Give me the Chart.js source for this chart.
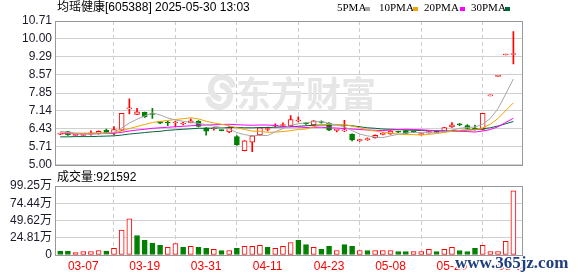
<!DOCTYPE html>
<html>
<head>
<meta charset="utf-8">
<script src="https://cdn.jsdelivr.net/npm/chart.js@4.4.1/dist/chart.umd.min.js"></script>
<style>
  html, body { margin: 0; padding: 0; background: #fff; }
  #wrap { position: relative; width: 578px; height: 276px; overflow: hidden; }
  canvas { position: absolute; left: 0; }
  #kline { top: 0; }
  #vol { top: 168px; }
</style>
</head>
<body>
<div id="wrap">
  <canvas id="kline" width="578" height="175"></canvas>
  <canvas id="vol" width="578" height="108"></canvas>
</div>
<script>
// trading days 2025-03-04 .. 2025-05-30
const dates = [
  '03-04','03-05','03-06','03-07','03-10','03-11','03-12','03-13','03-14','03-17',
  '03-18','03-19','03-20','03-21','03-24','03-25','03-26','03-27','03-28','03-31',
  '04-01','04-02','04-03','04-07','04-08','04-09','04-10','04-11','04-14','04-15',
  '04-16','04-17','04-18','04-21','04-22','04-23','04-24','04-25','04-28','04-29',
  '04-30','05-06','05-07','05-08','05-09','05-12','05-13','05-14','05-15','05-16',
  '05-19','05-20','05-21','05-22','05-23','05-26','05-27','05-28','05-29','05-30'
];
const opens = [6.22,6.32,6.17,6.17,6.22,6.24,6.37,6.27,6.38,7.22, 7.00,7.08,7.02,6.72,6.67,6.66,6.62,6.67,6.73,6.47,
  6.42,6.38,6.31,6.12,5.56,5.90,6.19,6.40,6.54,6.56, 6.55,6.74,6.66,6.58,6.70,6.66,6.37,6.35,6.21,5.96,
  6.00,6.08,6.21,6.23,6.32,6.36,6.34,6.20,6.28,6.31, 6.31,6.50,6.61,6.56,6.46,6.40,7.74,8.51,9.36,9.38];
const highs = [6.26,6.33,6.21,6.21,6.35,6.35,6.42,6.52,7.04,7.62, 7.24,7.09,7.24,6.73,6.73,6.73,6.69,6.83,6.76,6.48,
  6.48,6.39,6.52,6.16,5.96,6.17,6.49,6.50,6.63,6.67, 6.95,6.90,6.68,6.76,6.75,6.68,6.40,6.77,6.23,6.02,
  6.07,6.19,6.28,6.36,6.34,6.38,6.35,6.25,6.32,6.33, 6.49,6.68,6.64,6.60,6.58,7.04,7.74,8.51,9.36,10.29];
const lows = [6.20,6.17,6.15,6.15,6.18,6.22,6.26,6.20,6.36,7.02, 6.99,6.88,6.84,6.63,6.55,6.51,6.58,6.66,6.50,6.18,
  6.38,6.35,6.28,5.77,5.55,5.52,6.17,6.35,6.50,6.53, 6.53,6.70,6.60,6.56,6.65,6.36,6.31,6.32,5.95,5.93,
  5.97,6.06,6.19,6.21,6.28,6.23,6.28,6.18,6.26,6.28, 6.30,6.48,6.55,6.42,6.38,6.38,7.74,8.51,9.36,9.01];
const closes = [6.24,6.19,6.19,6.19,6.27,6.33,6.28,6.40,7.04,7.25, 7.10,6.90,7.00,6.65,6.66,6.69,6.64,6.75,6.52,6.34,
  6.44,6.36,6.47,5.80,5.95,6.15,6.47,6.42,6.57,6.60, 6.80,6.76,6.63,6.75,6.68,6.38,6.39,6.37,5.99,5.98,
  6.01,6.17,6.24,6.34,6.30,6.25,6.30,6.22,6.30,6.30, 6.48,6.59,6.59,6.44,6.40,7.04,7.74,8.51,9.36,9.42];

// moving averages
const ma5 = [6.33,6.29,6.25,6.22,6.22,6.23,6.25,6.29,6.46,6.66, 6.81,6.94,7.06,6.98,6.86,6.78,6.73,6.68,6.65,6.59,
  6.54,6.48,6.43,6.28,6.20,6.15,6.17,6.16,6.31,6.44, 6.57,6.63,6.67,6.71,6.72,6.64,6.57,6.51,6.36,6.22,
  6.15,6.10,6.08,6.15,6.21,6.26,6.29,6.28,6.27,6.27, 6.32,6.38,6.45,6.48,6.50,6.61,6.84,7.23,7.81,8.41];
const ma10 = [6.27,6.27,6.26,6.26,6.26,6.27,6.27,6.28,6.34,6.44, 6.52,6.60,6.68,6.72,6.76,6.80,6.83,6.87,6.82,6.73,
  6.66,6.61,6.55,6.47,6.40,6.34,6.33,6.29,6.30,6.32, 6.36,6.40,6.42,6.51,6.58,6.61,6.60,6.59,6.54,6.47,
  6.39,6.34,6.30,6.26,6.22,6.20,6.20,6.18,6.21,6.24, 6.29,6.33,6.37,6.38,6.39,6.47,6.61,6.84,7.15,7.46];
const ma20 = [6.24,6.24,6.23,6.23,6.23,6.24,6.24,6.25,6.29,6.34, 6.38,6.41,6.45,6.47,6.49,6.51,6.53,6.55,6.57,6.58,
  6.59,6.60,6.61,6.59,6.58,6.57,6.58,6.58,6.56,6.52, 6.51,6.50,6.48,6.49,6.49,6.47,6.46,6.44,6.42,6.40,
  6.38,6.37,6.36,6.38,6.40,6.41,6.40,6.39,6.37,6.36, 6.34,6.33,6.33,6.32,6.30,6.34,6.40,6.51,6.68,6.85];
const ma30 = [6.11,6.11,6.12,6.12,6.12,6.13,6.14,6.15,6.18,6.22, 6.25,6.28,6.31,6.33,6.37,6.39,6.41,6.43,6.45,6.45,
  6.46,6.47,6.48,6.48,6.47,6.47,6.48,6.48,6.49,6.50, 6.51,6.53,6.55,6.57,6.58,6.58,6.59,6.58,6.55,6.51,
  6.47,6.45,6.42,6.41,6.40,6.38,6.37,6.36,6.35,6.35, 6.35,6.36,6.36,6.38,6.40,6.43,6.47,6.54,6.63,6.72];

// volume in 万, colour flag 1 = up (red), 0 = down (green)
const volumes = [5.5,5.5,3.5,5,5,6.5,5.5,9.5,36,52, 28,21,17,14,11,16.5,11,12.5,11,9.5,
  8,6.5,6.5,9.5,12.5,12.5,14,11,9.5,12.5, 18,21,15,11,8,12.5,6.5,15,12.5,6.5,
  6.5,6.5,6.5,6.5,5,5,5,5,8,5, 8,11,6.5,5,9.5,14,5,5,19.5,92.16];
const volUp = [0,0,1,1,1,1,0,1,1,1, 0,0,0,0,1,1,0,1,0,0, 1,0,1,0,1,1,1,0,1,1,
  1,0,0,1,0,0,1,0,0,1, 0,1,1,1,0,0,1,1,1,0, 1,1,0,0,0,1,1,1,1,1];

const priceTicks = [5.00, 5.71, 6.43, 7.14, 7.85, 8.57, 9.29, 10.00, 10.71];
const volTicks = [0, 24.81, 49.62, 74.44, 99.25];
const dateTicks = ['03-07','03-19','03-31','04-11','04-23','05-08','05-20','05-30'];

const RED = '#ff0000', GREEN = '#008000';
const FONT = '"Liberation Sans", "Noto Sans CJK SC", sans-serif';
const maLines = [
  { label: '5PMA', data: ma5, color: '#a6a6a6', tx: 337, bx: 365 },
  { label: '10PMA', data: ma10, color: '#f4a300', tx: 379, bx: 413 },
  { label: '20PMA', data: ma20, color: '#ff00ff', tx: 424, bx: 460 },
  { label: '30PMA', data: ma30, color: '#00663a', tx: 471, bx: 505 }
];

const isUp = i => closes[i] >= opens[i];

function xAxis(showLabels) {
  return {
    type: 'linear', min: -0.68, max: 60.12, offset: false,
    afterBuildTicks: s => { s.ticks = dateTicks.map(d => ({ value: dates.indexOf(d) })); },
    afterFit: s => { s.height = showLabels ? 21 : 3; },
    grid: { color: '#cccccc', drawTicks: false },
    border: { display: false, dash: [4, 3] },
    ticks: {
      display: showLabels, autoSkip: false, maxRotation: 0, padding: 4,
      color: RED, font: { family: FONT, size: 12 },
      callback: v => dates[v]
    }
  };
}

function yAxis(min, max, list, fmt) {
  return {
    min, max,
    afterBuildTicks: s => { s.ticks = list.map(v => ({ value: v })); },
    afterFit: s => { s.width = 55; },
    grid: { color: '#d0d0d0', drawTicks: false },
    border: { display: false },
    ticks: { autoSkip: false, padding: 3, color: '#1a1a2a', font: { family: FONT, size: 12 }, callback: fmt }
  };
}

const frame = {
  id: 'frame',
  afterDraw(chart) {
    const { ctx, chartArea: a } = chart;
    ctx.save();
    ctx.strokeStyle = '#999';
    ctx.lineWidth = 1;
    ctx.strokeRect(Math.round(a.left) + 0.5, Math.round(a.top) + 0.5,
      Math.round(a.right - a.left), Math.round(a.bottom - a.top));
    ctx.restore();
  }
};

const klineText = {
  id: 'klineText',
  beforeDatasetsDraw(chart) {
    const ctx = chart.ctx;
    ctx.save();
    // faint site logo behind the candles
    ctx.strokeStyle = '#e6e6e6';
    ctx.lineWidth = 6;
    ctx.lineCap = 'round';
    ctx.beginPath();
    ctx.arc(222, 88, 11, Math.PI * 0.6, Math.PI * 1.9);
    ctx.stroke();
    ctx.beginPath();
    ctx.arc(219, 96, 11, Math.PI * 1.6, Math.PI * 0.9);
    ctx.stroke();
    ctx.fillStyle = '#e6e6e6';
    ctx.font = 'bold 35px "Noto Sans CJK SC"';
    ctx.textBaseline = 'alphabetic';
    ctx.fillText('东方财富', 236, 107);
    ctx.restore();
  },
  afterDraw(chart) {
    const ctx = chart.ctx;
    ctx.save();
    ctx.textBaseline = 'middle';
    ctx.fillStyle = '#000';
    ctx.font = '12px ' + FONT;
    ctx.fillText('均瑶健康[605388] 2025-05-30 13:03', 57, 8);
    ctx.font = '11px "Liberation Serif", serif';
    maLines.forEach(m => {
      ctx.fillStyle = '#000';
      ctx.fillText(m.label, m.tx, 8.5);
      ctx.fillStyle = m.color;
      ctx.fillRect(m.bx, 7, 5, 4);
    });
    ctx.restore();
  }
};

const volText = {
  id: 'volText',
  afterDraw(chart) {
    const ctx = chart.ctx;
    ctx.save();
    ctx.textBaseline = 'middle';
    ctx.fillStyle = '#000';
    ctx.font = '12px ' + FONT;
    ctx.fillText('成交量:921592', 57, 10);
    ctx.font = 'bold 17px "Liberation Serif", serif';
    ctx.textBaseline = 'alphabetic';
    ctx.lineWidth = 3;
    ctx.strokeStyle = '#fff';
    ctx.strokeText('www.365jz.com', 455, 100);
    ctx.fillStyle = '#1f3f80';
    ctx.fillText('www.365jz.com', 455, 100);
    ctx.restore();
  }
};

const idx = dates.map((d, i) => i);

new Chart(document.getElementById('kline'), {
  type: 'bar',
  data: {
    datasets: [
      ...maLines.map(m => ({
        type: 'line', label: m.label, order: 0,
        data: idx.map(i => ({ x: i, y: m.data[i] })),
        borderColor: m.color, borderWidth: 1, pointRadius: 0, tension: 0
      })),
      {
        label: 'body', order: 1, grouped: false,
        data: idx.map(i => ({ x: i, y: [opens[i], closes[i]] })),
        backgroundColor: c => isUp(c.dataIndex) ? '#ffffff' : GREEN,
        borderColor: c => isUp(c.dataIndex) ? RED : GREEN,
        borderWidth: 1, borderSkipped: false, barThickness: 5, minBarLength: 1
      },
      {
        label: 'wick', order: 2, grouped: false,
        data: idx.map(i => ({ x: i, y: [lows[i], highs[i]] })),
        backgroundColor: c => isUp(c.dataIndex) ? RED : GREEN,
        borderWidth: 0, barThickness: 1, minBarLength: 1
      }
    ]
  },
  options: {
    responsive: false, animation: false, events: [],
    layout: { padding: { top: 21, right: 56, left: 0, bottom: 0 } },
    plugins: { legend: { display: false }, tooltip: { enabled: false } },
    scales: {
      x: xAxis(false),
      y: yAxis(5.00, 10.71, priceTicks, v => v.toFixed(2))
    }
  },
  plugins: [klineText, frame]
});

new Chart(document.getElementById('vol'), {
  type: 'bar',
  data: {
    datasets: [{
      label: 'volume', grouped: false,
      data: idx.map(i => ({ x: i, y: volumes[i] })),
      backgroundColor: c => volUp[c.dataIndex] ? '#ffffff' : GREEN,
      borderColor: c => volUp[c.dataIndex] ? RED : GREEN,
      borderWidth: 1, borderSkipped: false, barThickness: 5
    }]
  },
  options: {
    responsive: false, animation: false, events: [],
    layout: { padding: { top: 18, right: 56, left: 0, bottom: 0 } },
    plugins: { legend: { display: false }, tooltip: { enabled: false } },
    scales: {
      x: xAxis(true),
      y: yAxis(0, 99.25, volTicks, v => v === 0 ? '0' : v.toFixed(2) + '万')
    }
  },
  plugins: [volText, frame]
});
</script>
</body>
</html>
